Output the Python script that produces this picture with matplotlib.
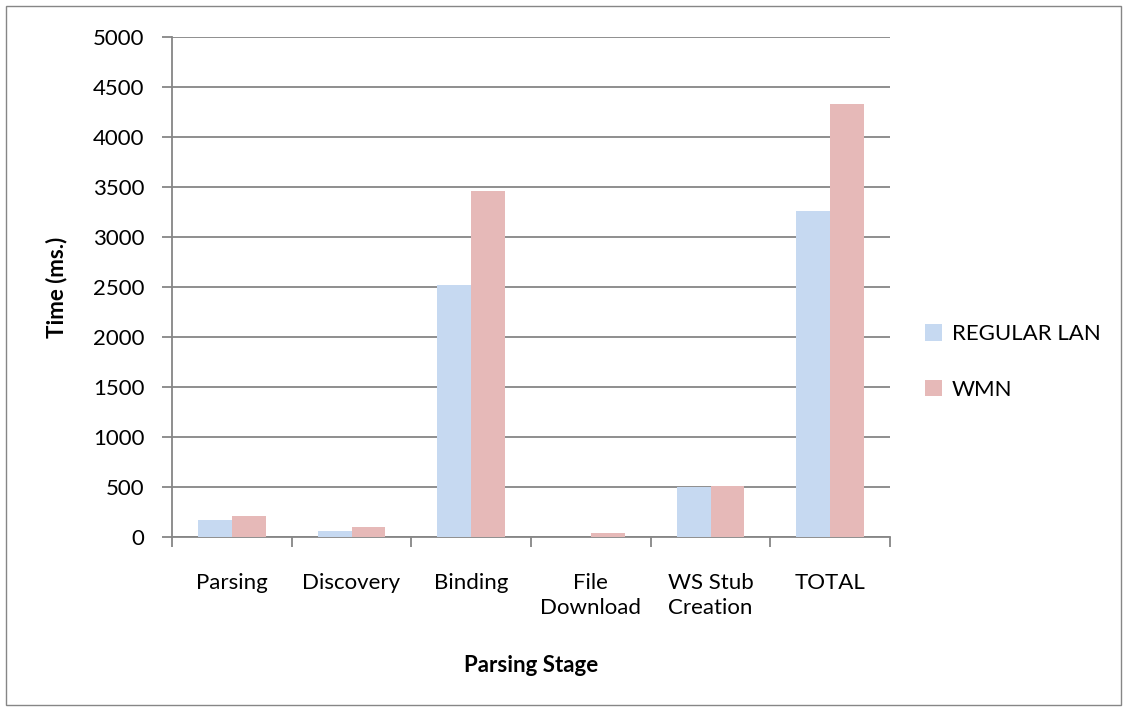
import matplotlib
matplotlib.use("Agg")
import matplotlib.pyplot as plt
import numpy as np
from matplotlib.patches import Rectangle

categories = ["Parsing", "Discovery", "Binding", "File\nDownload", "WS Stub\nCreation", "TOTAL"]
regular_lan = [170, 63, 2520, 0, 503, 3263]
wmn = [210, 103, 3463, 40, 510, 4330]
series_names = ["REGULAR LAN", "WMN"]
yticks = list(range(0, 5001, 500))

plt.rcParams['font.family'] = ['Lato', 'DejaVu Sans']
FS = 16

W, H = 1125, 709
fig = plt.figure(figsize=(W/100, H/100), dpi=100)
ax = fig.add_axes([172/W, 1 - 537/H, (890-172)/W, 500/H])

x = np.arange(len(categories))
w = 0.284
ax.bar(x - w/2, regular_lan, w, color="#C6D9F1", label=series_names[0], zorder=3)
ax.bar(x + w/2, wmn, w, color="#E6B9B8", label=series_names[1], zorder=3)

ax.set_xlim(-0.5, len(categories) - 0.5)
ax.set_ylim(0, 5000)
ax.set_yticks(yticks)
ax.yaxis.grid(True, color="#868686", linewidth=1.3, zorder=0)
ax.set_axisbelow(True)
for s in ["top", "right"]:
    ax.spines[s].set_visible(False)
for s in ["left", "bottom"]:
    ax.spines[s].set_color("#868686")
    ax.spines[s].set_linewidth(1.3)
ax.tick_params(axis="y", length=7, width=1.3, color="#868686", labelsize=FS, pad=13)
ax.set_xticks(np.arange(-0.5, len(categories), 1))
ax.set_xticklabels([])
ax.set_xticks(x, minor=True)
ax.set_xticklabels(categories, minor=True, fontsize=FS, linespacing=1.3)
ax.tick_params(axis="x", which="major", length=7, width=1.3, color="#868686", direction="out")
ax.tick_params(axis="x", which="minor", length=0, pad=26)

fig.text(57/W, 1 - 287/H, "Time (ms.)", fontsize=FS, fontweight="bold",
         rotation=90, ha="center", va="center")
fig.text(531/W, 1 - 666/H, "Parsing Stage", fontsize=FS,
         fontweight="bold", ha="center", va="center")

leg = fig.legend(loc="center left", bbox_to_anchor=(925/W, 1 - 362/H), frameon=False,
                 fontsize=FS, handlelength=0.75, handleheight=0.75, labelspacing=1.6,
                 handletextpad=0.45, borderaxespad=0, borderpad=0)

fig.patches.append(Rectangle((6/W, 4/H), 1 - 10/W, 1 - 10/H, transform=fig.transFigure,
                             fill=False, edgecolor="#868686", linewidth=1.0))

fig.savefig("out.png", dpi=100)
